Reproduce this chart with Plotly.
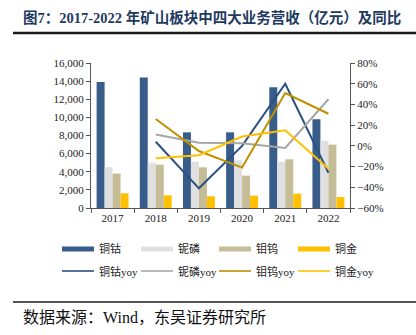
import plotly.graph_objects as go

# Revenue (100 million yuan) of four mining businesses, and year-on-year growth (%)
years = ["2017", "2018", "2019", "2020", "2021", "2022"]
yoy_years = years[1:]

cu_co = [13900, 14400, 8350, 8350, 13320, 9790]
nb_p = [4500, 5000, 5110, 5260, 5110, 7430]
mo_w = [3800, 4780, 4490, 3570, 5370, 6990]
cu_au = [1620, 1400, 1290, 1360, 1580, 1210]

cu_co_yoy = [4, -41, 0, 60, -26]
nb_p_yoy = [11, 3, 2.5, -2, 45]
mo_w_yoy = [26, -5, -21, 51, 31]
cu_au_yoy = [-12, -9, 9, 15, -22]

bar_names = ["铜钴", "铌磷", "钼钨", "铜金"]
line_names = ["铜钴yoy", "铌磷yoy", "钼钨yoy", "铜金yoy"]
bar_colors = ["#385D8A", "#E0E0E0", "#C4BD97", "#FFC000"]
line_colors = ["#2A5180", "#A6A6A6", "#BF9000", "#FFC000"]

W, H = 416, 335
L, R, T, B = 91, 350, 63, 208

serif = "Liberation Serif, Noto Sans CJK SC"

fig = go.Figure()
for name, vals, col in zip(bar_names, [cu_co, nb_p, mo_w, cu_au], bar_colors):
    fig.add_trace(go.Bar(x=years, y=vals, name=name, marker_color=col,
                         marker_line_width=0, yaxis="y"))
for name, vals, col in zip(line_names, [cu_co_yoy, nb_p_yoy, mo_w_yoy, cu_au_yoy], line_colors):
    fig.add_trace(go.Scatter(x=yoy_years, y=vals, name=name, mode="lines",
                             line=dict(color=col, width=2), yaxis="y2"))


def px(x):
    return (x - L) / (R - L)


def py(y):
    return (B - y) / (B - T)


shapes = []
annotations = []

# header and footer rules
shapes.append(dict(type="line", xref="paper", yref="paper", x0=px(13), x1=px(416),
                   y0=py(33), y1=py(33), line=dict(color="#1a1a1a", width=2.3)))
shapes.append(dict(type="line", xref="paper", yref="paper", x0=px(13), x1=px(416),
                   y0=py(302), y1=py(302), line=dict(color="#1a1a1a", width=1.5)))

annotations.append(dict(text="<b>图7：2017-2022 年矿山板块中四大业务营收（亿元）及同比</b>",
                        xref="paper", yref="paper", x=px(21), y=py(17), xanchor="left",
                        yanchor="middle", showarrow=False,
                        font=dict(family=serif, size=14.5, color="#1F3A60")))
annotations.append(dict(text="数据来源：Wind，东吴证券研究所",
                        xref="paper", yref="paper", x=px(21), y=py(317), xanchor="left",
                        yanchor="middle", showarrow=False,
                        font=dict(family=serif, size=16, color="#111111")))

# legend drawn as swatches plus labels
sw_x = [62, 141, 219, 298]
sw_w = 32
for i in range(4):
    x0 = sw_x[i]
    shapes.append(dict(type="rect", xref="paper", yref="paper", x0=px(x0), x1=px(x0 + sw_w),
                       y0=py(251.5), y1=py(246.5), fillcolor=bar_colors[i], line_width=0))
    annotations.append(dict(text=bar_names[i], xref="paper", yref="paper", x=px(x0 + sw_w + 3),
                            y=py(249), xanchor="left", yanchor="middle", showarrow=False,
                            font=dict(family=serif, size=11, color="#222222")))
    shapes.append(dict(type="line", xref="paper", yref="paper", x0=px(x0), x1=px(x0 + sw_w),
                       y0=py(271), y1=py(271), line=dict(color=line_colors[i], width=1.6)))
    annotations.append(dict(text=line_names[i], xref="paper", yref="paper", x=px(x0 + sw_w + 3),
                            y=py(271), xanchor="left", yanchor="middle", showarrow=False,
                            font=dict(family=serif, size=11, color="#222222")))

axis_col = "#555555"
fig.update_layout(
    width=W, height=H,
    margin=dict(l=L, r=W - R, t=T, b=H - B, pad=0),
    paper_bgcolor="white", plot_bgcolor="white",
    barmode="group", bargap=0.26, bargroupgap=0,
    showlegend=False,
    font=dict(family=serif, size=11, color="#222222"),
    xaxis=dict(type="category", showline=True, linecolor=axis_col, linewidth=1,
               ticks="outside", tickson="boundaries", ticklen=4, tickcolor=axis_col,
               showgrid=False, tickfont=dict(family=serif, size=11, color="#222222")),
    yaxis=dict(range=[0, 16000], dtick=2000, tickformat=",", showline=True,
               linecolor=axis_col, ticks="outside", ticklen=4, tickcolor=axis_col,
               showgrid=False, zeroline=False,
               tickfont=dict(family=serif, size=11, color="#222222")),
    yaxis2=dict(range=[-60, 80], dtick=20, ticksuffix="%", overlaying="y", side="right",
                showline=True, linecolor=axis_col, ticks="outside", ticklen=4,
                tickcolor=axis_col, showgrid=False, zeroline=False,
                tickfont=dict(family=serif, size=11, color="#222222")),
    shapes=shapes,
    annotations=annotations,
)

fig.write_html("out.html")
